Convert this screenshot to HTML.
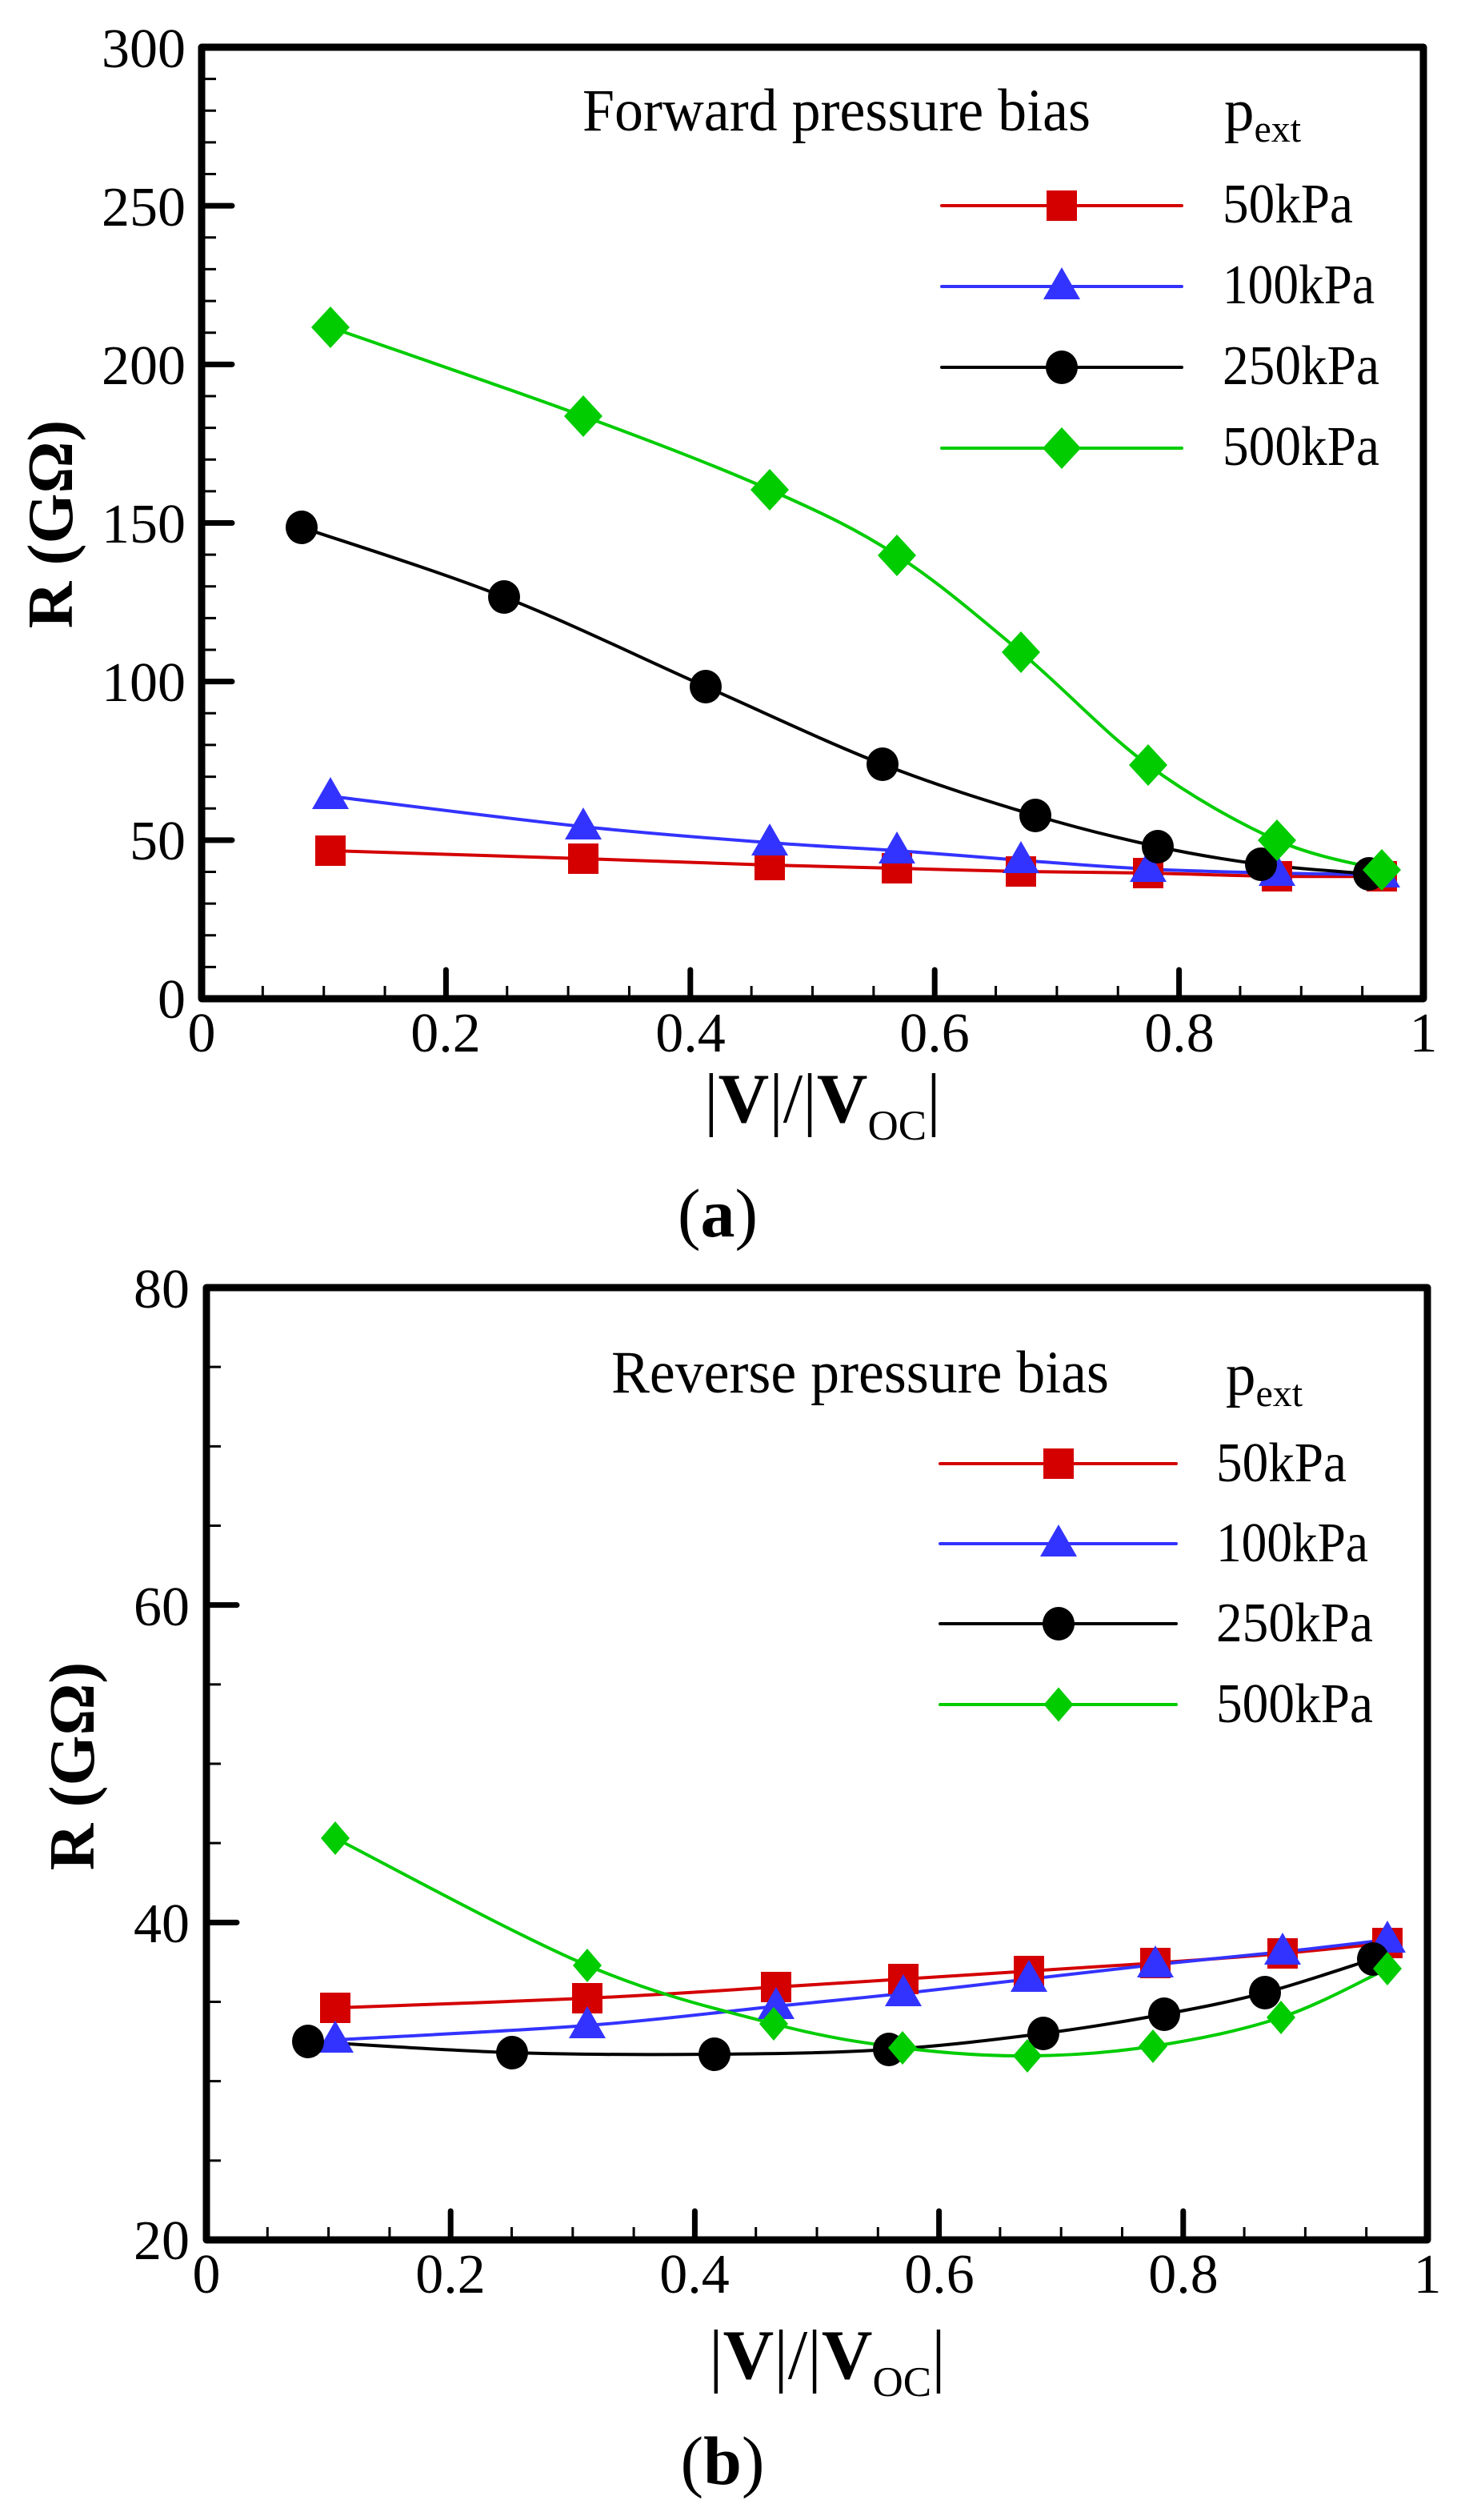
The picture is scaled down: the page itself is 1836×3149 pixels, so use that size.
<!DOCTYPE html>
<html><head><meta charset="utf-8"><style>
html,body{margin:0;padding:0;background:#fff;}
svg{display:block;}
text{font-family:"Liberation Serif","Times New Roman",serif;fill:#000;}
</style></head><body>
<svg id="s" width="1836" height="3149" viewBox="0 0 1836 3149" xmlns="http://www.w3.org/2000/svg" font-family="Liberation Serif, serif">
<rect width="1836" height="3149" fill="#fff"/>
<g id="ga"></g>
<g id="gb"></g>

<!-- Plot A text -->
<g font-size="70" text-anchor="end">
<text x="232" y="1272">0</text>
<text x="232" y="1074">50</text>
<text x="232" y="876">100</text>
<text x="232" y="678">150</text>
<text x="232" y="480">200</text>
<text x="232" y="282">250</text>
<text x="232" y="84">300</text>
</g>
<g font-size="70" text-anchor="middle">
<text x="252" y="1314">0</text>
<text x="557" y="1314">0.2</text>
<text x="863" y="1314">0.4</text>
<text x="1168" y="1314">0.6</text>
<text x="1474" y="1314">0.8</text>
<text x="1779" y="1314">1</text>
</g>
<text transform="translate(90,655) rotate(-90)" font-size="81" font-weight="bold" text-anchor="middle">R (GΩ)</text>
<text x="880" y="1402" font-size="88"><tspan font-weight="normal">|</tspan><tspan font-weight="bold">V</tspan><tspan>|/|</tspan><tspan font-weight="bold">V</tspan><tspan font-size="53" dy="22">OC</tspan><tspan dy="-22">|</tspan></text>
<text x="897" y="1545" font-size="86" text-anchor="middle">(<tspan font-weight="bold">a</tspan>)</text>
<text x="728" y="163" font-size="75" textLength="635" lengthAdjust="spacingAndGlyphs">Forward pressure bias</text>
<text x="1530" y="163" font-size="75">p<tspan font-size="48" dy="14">ext</tspan></text>
<g font-size="70">
<text x="1528" y="278" textLength="163" lengthAdjust="spacingAndGlyphs">50kPa</text>
<text x="1528" y="379" textLength="190" lengthAdjust="spacingAndGlyphs">100kPa</text>
<text x="1528" y="480" textLength="196" lengthAdjust="spacingAndGlyphs">250kPa</text>
<text x="1528" y="581" textLength="196" lengthAdjust="spacingAndGlyphs">500kPa</text>
</g>

<!-- Plot B text -->
<g font-size="70" text-anchor="end">
<text x="237" y="2823">20</text>
<text x="237" y="2427">40</text>
<text x="237" y="2031">60</text>
<text x="237" y="1634">80</text>
</g>
<g font-size="70" text-anchor="middle">
<text x="258" y="2865">0</text>
<text x="563" y="2865">0.2</text>
<text x="868" y="2865">0.4</text>
<text x="1174" y="2865">0.6</text>
<text x="1479" y="2865">0.8</text>
<text x="1784" y="2865">1</text>
</g>
<text transform="translate(117,2207) rotate(-90)" font-size="81" font-weight="bold" text-anchor="middle">R (GΩ)</text>
<text x="886" y="2972" font-size="88"><tspan>|</tspan><tspan font-weight="bold">V</tspan><tspan>|/|</tspan><tspan font-weight="bold">V</tspan><tspan font-size="53" dy="22">OC</tspan><tspan dy="-22">|</tspan></text>
<text x="903" y="3104" font-size="86" text-anchor="middle">(<tspan font-weight="bold">b</tspan>)</text>
<text x="764" y="1740" font-size="75" textLength="622" lengthAdjust="spacingAndGlyphs">Reverse pressure bias</text>
<text x="1532" y="1743" font-size="75">p<tspan font-size="48" dy="14">ext</tspan></text>
<g font-size="70">
<text x="1520" y="1851" textLength="163" lengthAdjust="spacingAndGlyphs">50kPa</text>
<text x="1520" y="1951" textLength="190" lengthAdjust="spacingAndGlyphs">100kPa</text>
<text x="1520" y="2051" textLength="196" lengthAdjust="spacingAndGlyphs">250kPa</text>
<text x="1520" y="2152" textLength="196" lengthAdjust="spacingAndGlyphs">500kPa</text>
</g>
</svg>
<script>
(function(){
var NS="http://www.w3.org/2000/svg";
function el(parent,tag,attrs){var e=document.createElementNS(NS,tag);for(var k in attrs)e.setAttribute(k,attrs[k]);parent.appendChild(e);return e;}
function smooth(p){
  var d="M"+p[0][0]+","+p[0][1];
  for(var i=0;i<p.length-1;i++){
    var p0=p[i-1]||p[i],p1=p[i],p2=p[i+1],p3=p[i+2]||p2;
    var c1x=p1[0]+(p2[0]-p0[0])/6,c1y=p1[1]+(p2[1]-p0[1])/6;
    var c2x=p2[0]-(p3[0]-p1[0])/6,c2y=p2[1]-(p3[1]-p1[1])/6;
    d+=" C"+c1x+","+c1y+" "+c2x+","+c2y+" "+p2[0]+","+p2[1];
  }
  return d;
}
function marker(g,type,x,y,col,dsz){
  if(type=="sq") el(g,"rect",{x:x-19,y:y-19,width:38,height:38,fill:col});
  else if(type=="tri") el(g,"polygon",{points:(x)+","+(y-24)+" "+(x-23)+","+(y+16)+" "+(x+23)+","+(y+16),fill:col});
  else if(type=="cir") el(g,"ellipse",{cx:x,cy:y,rx:20,ry:21,fill:col});
  else { var w=dsz[0]/2,h=dsz[1]/2; el(g,"polygon",{points:x+","+(y-h)+" "+(x+w)+","+y+" "+x+","+(y+h)+" "+(x-w)+","+y,fill:col});}
}
function axes(g,L,R,T,B,yMin,yMax,minorStep,majorStep){
  var d="";
  var n=Math.round((yMax-yMin)/minorStep);
  for(var i=1;i<n;i++){
    var v=yMin+i*minorStep,y=B-(v-yMin)/(yMax-yMin)*(B-T);
    d+="M"+L+","+y+"h18";
  }
  for(var j=1;j<20;j++){
    var x=L+j*0.05*(R-L);
    d+="M"+x+","+B+"v-16";
  }
  el(g,"path",{d:d,stroke:"#000","stroke-width":3,fill:"none"});
  var dm="";
  for(var i=1;i<n;i++){var v=yMin+i*minorStep;if(Math.abs(v/majorStep-Math.round(v/majorStep))<1e-6){var y=B-(v-yMin)/(yMax-yMin)*(B-T);dm+="M"+L+","+y+"h38";}}
  for(var j=4;j<20;j+=4){var x=L+j*0.05*(R-L);dm+="M"+x+","+B+"v-36";}
  el(g,"path",{d:dm,stroke:"#000","stroke-width":7,"stroke-linecap":"round",fill:"none"});
  el(g,"rect",{x:L,y:T,width:R-L,height:B-T,fill:"none",stroke:"#000","stroke-width":9,"stroke-linejoin":"round"});
}
function plot(g,series,legend,dsz){
  series.forEach(function(s){
    el(g,"path",{d:smooth(s.p),stroke:s.c,"stroke-width":4,fill:"none"});
  });
  series.forEach(function(s){
    s.p.forEach(function(q){marker(g,s.m,q[0],q[1],s.c,dsz);});
  });
  legend.rows.forEach(function(y,i){
    var s=series[i];
    el(g,"line",{x1:legend.x1,x2:legend.x2,y1:y,y2:y,stroke:s.c,"stroke-width":4,"stroke-linecap":"round"});
    marker(g,s.m,legend.mx,y,s.c,legend.dsz);
  });
}
var RED="#d40000",BLUE="#3333ff",BLK="#000",GRN="#00cc00";
var ga=document.getElementById("ga");
var xa=[413,729,962,1121,1276,1435,1596,1727];
function zip(xs,ys){return xs.map(function(x,i){return [x,ys[i]];});}
var seriesA=[
 {c:RED,m:"sq",p:zip(xa,[1063,1073,1081,1085,1089,1091,1095,1095])},
 {c:BLUE,m:"tri",p:zip(xa,[995,1033,1053,1063,1075,1086,1091,1093])},
 {c:BLK,m:"cir",p:zip([377,630,882,1103,1294,1447,1576,1711],[659,746,858,955,1019,1058,1080,1092])},
 {c:GRN,m:"dia",p:zip(xa,[409,520,612,694,815,956,1050,1087])}
];
plot(ga,seriesA,{rows:[257,358,459,560],x1:1177,x2:1477,mx:1327,dsz:[48,52]},[48,52]);
axes(ga,252,1779,59,1248,0,300,10,50);

var gb=document.getElementById("gb");
var xb=[419,734,970,1129,1286,1444,1603,1734];
var seriesB=[
 {c:RED,m:"sq",p:zip(xb,[2509,2497,2483,2473,2463,2453,2441,2428])},
 {c:BLUE,m:"tri",p:zip(xb,[2549,2531,2507,2491,2473,2455,2439,2424])},
 {c:BLK,m:"cir",p:zip([385,640,893,1111,1304,1455,1581,1716],[2551,2565,2567,2561,2541,2517,2490,2448])},
 {c:GRN,m:"dia",p:zip([419,734,967,1128,1284,1441,1601,1734],[2297,2456,2529,2559,2569,2557,2521,2460])}
];
plot(gb,seriesB,{rows:[1829,1929,2029,2130],x1:1175,x2:1470,mx:1323,dsz:[37,43]},[36,42]);
axes(gb,258,1784,1609,2799,20,80,5,20);
})();
</script>
</body></html>
